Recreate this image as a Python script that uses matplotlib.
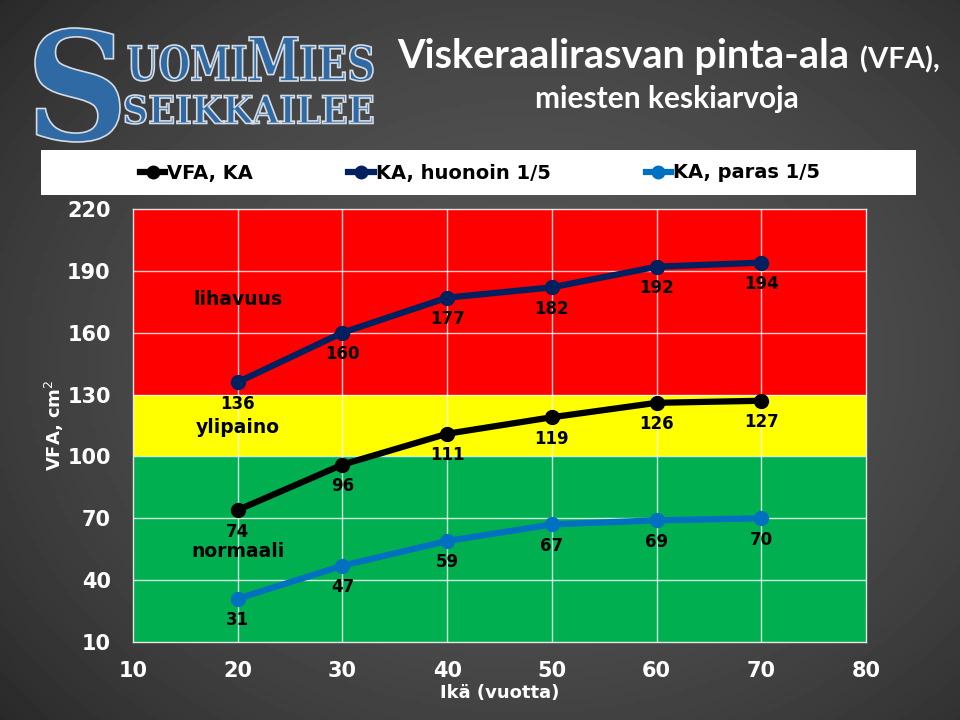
import matplotlib
matplotlib.use("Agg")
import matplotlib.pyplot as plt
import numpy as np
from matplotlib.font_manager import FontProperties
from matplotlib.patches import PathPatch, Rectangle
from matplotlib.textpath import TextPath
from matplotlib.transforms import Affine2D

W, H = 960, 720

ages = [20, 30, 40, 50, 60, 70]
vfa_mean = [74, 96, 111, 119, 126, 127]
vfa_worst = [136, 160, 177, 182, 192, 194]
vfa_best = [31, 47, 59, 67, 69, 70]
series_names = ["VFA, KA", "KA, huonoin 1/5", "KA, paras 1/5"]
zones = [(10, 100, "#00b050", "normaali", 54),
         (100, 130, "#ffff00", "ylipaino", 114),
         (130, 220, "#ff0000", "lihavuus", 176)]
x_ticks = [10, 20, 30, 40, 50, 60, 70, 80]
y_ticks = [10, 40, 70, 100, 130, 160, 190, 220]

BOLD = dict(fontweight="bold", family="DejaVu Sans")

fig = plt.figure(figsize=(W / 100, H / 100), dpi=100)

# dark backdrop, lighter in the middle
bg = fig.add_axes([0, 0, 1, 1], zorder=-10)
yy, xx = np.mgrid[0:1:180j, 0:1:240j]
r2 = ((xx - 0.55) / 0.75) ** 2 + ((yy - 0.5) / 0.8) ** 2
bg.imshow(0.33 - 0.18 * r2, cmap="gray", vmin=0, vmax=1, aspect="auto",
          extent=[0, 1, 0, 1])
bg.axis("off")


def fit_text(s, box, family="DejaVu Serif", fc="#2f6aa4", ec="#d5dbe2"):
    """Draw text path stretched into a pixel box (x0, y0, x1, y1), y from top."""
    x0, y0, x1, y1 = box
    tp = TextPath((0, 0), s, size=100,
                  prop=FontProperties(family=family, weight="bold"))
    bb = tp.get_extents()
    tr = (Affine2D().translate(-bb.x0, -bb.y0)
          .scale((x1 - x0) / bb.width / W, (y1 - y0) / bb.height / H)
          .translate(x0 / W, 1 - y1 / H))
    fig.add_artist(PathPatch(tr.transform_path(tp), fc=fc, ec=ec, lw=1.2,
                             transform=fig.transFigure))


# logo
fit_text("S", (35, 28, 120, 142))
fit_text("UOMI", (128, 45, 246, 81))
fit_text("M", (249, 37, 298, 81))
fit_text("IES", (301, 45, 373, 81))
fit_text("SEIKKAILEE", (125, 95, 373, 124))

# title
fig.text(397 / W, 1 - 68 / H, "Viskeraalirasvan pinta-ala", color="white",
         fontsize=28.5, fontweight="bold", family="Lato", va="baseline")
fig.text(940 / W, 1 - 68 / H, "(VFA),", color="white", fontsize=21,
         fontweight="bold", family="Lato", va="baseline", ha="right")
fig.text(667 / W, 1 - 108 / H, "miesten keskiarvoja", color="white",
         fontsize=21.5, fontweight="bold", family="Lato", va="baseline",
         ha="center")

ax = fig.add_axes([133 / W, 1 - 642 / H, (866 - 133) / W, (642 - 209) / H])
ax.patch.set_alpha(0)
for lo, hi, col, name, ylab in zones:
    ax.axhspan(lo, hi, color=col, zorder=1, lw=0)
    ax.text(20, ylab, name, ha="center", va="center", fontsize=13.5,
            color="black", zorder=5, **BOLD)
for yv in y_ticks[1:-1]:
    ax.axhline(yv, color="white", lw=1, alpha=0.8, zorder=1.5)
for xv in x_ticks[1:-1]:
    ax.axvline(xv, color="white", lw=1, alpha=0.8, zorder=1.5)

styles = [(vfa_mean, "black"), (vfa_worst, "#002060"), (vfa_best, "#0070c0")]
handles = []
for (vals, col), name in zip(styles, series_names):
    h, = ax.plot(ages, vals, color=col, lw=4.5, marker="o", ms=10, zorder=3,
                 label=name)
    handles.append(h)
    for xv, yv in zip(ages, vals):
        ax.annotate(str(yv), (xv, yv), xytext=(0, -9),
                    textcoords="offset points", ha="center", va="top",
                    fontsize=12, color="black", zorder=4, **BOLD)

ax.set_xlim(10, 80)
ax.set_ylim(10, 220)
ax.set_xticks(x_ticks)
ax.set_yticks(y_ticks)
ax.tick_params(length=0, colors="white", labelsize=15)
ax.tick_params(axis="x", pad=14)
ax.tick_params(axis="y", pad=16)
for lab in ax.get_xticklabels() + ax.get_yticklabels():
    lab.set_fontweight("bold")
for sp in ax.spines.values():
    sp.set_color("#e6e6e6")
    sp.set_linewidth(1)
    sp.set_zorder(2)
ax.set_xlabel("Ikä (vuotta)", color="white", fontsize=13, labelpad=2, **BOLD)
fig.text(54 / W, 1 - 425 / H, "VFA, cm$^2$",
         color="white", fontsize=13, rotation=90, ha="center", va="center",
         **BOLD)

# legend strip
fig.add_artist(Rectangle((41 / W, 1 - 195 / H), (916 - 41) / W, 45 / H,
                         transform=fig.transFigure, fc="white", ec="none"))
leg = fig.legend(handles=handles, loc="center", ncol=3, frameon=False,
                 bbox_to_anchor=(0.5, 1 - 173 / H), handlelength=1.3,
                 handletextpad=0.1, columnspacing=4.9,
                 prop=dict(weight="bold", family="DejaVu Sans", size=14))
for lh in leg.legend_handles:
    lh.set_markersize(9)

fig.savefig("out.png", dpi=100)
